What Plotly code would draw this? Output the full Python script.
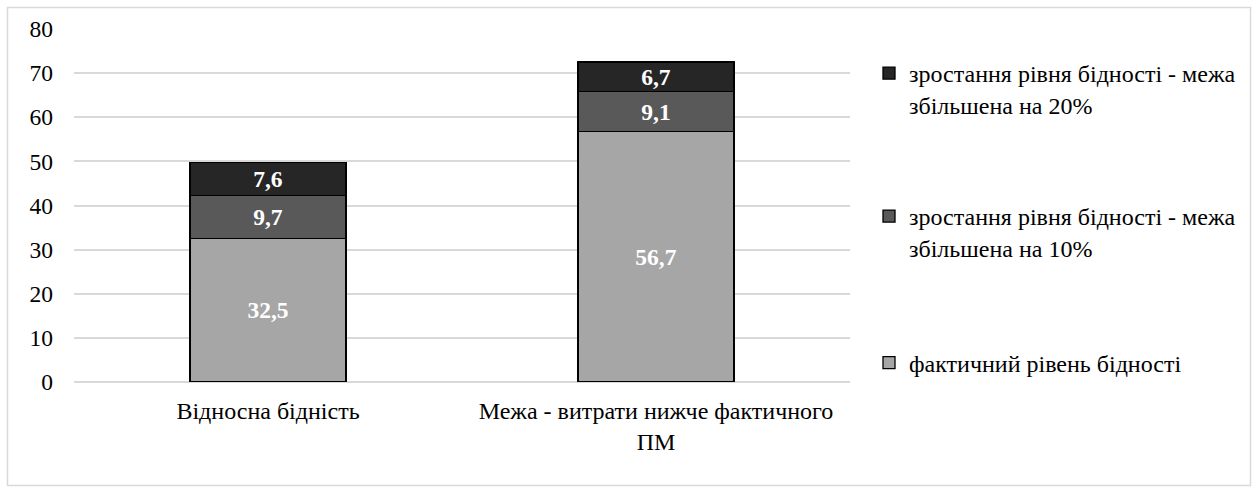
import plotly.graph_objects as go

categories = ["Відносна бідність", "Межа - витрати нижче фактичного<br>ПМ"]
actual = [32.5, 56.7]
plus10 = [9.7, 9.1]
plus20 = [7.6, 6.7]
names = ["фактичний рівень бідності",
         "зростання рівня бідності - межа<br>збільшена на 10%",
         "зростання рівня бідності - межа<br>збільшена на 20%"]
colors = ["#a6a6a6", "#595959", "#262626"]
y_ticks = [0, 10, 20, 30, 40, 50, 60, 70, 80]

FONT = "Liberation Serif, Times New Roman, serif"
FS = 24
fig = go.Figure()
series = [actual, plus10, plus20]
legends = ["legend3", "legend2", "legend"]
for vals, nm, col, lg in zip(series, names, colors, legends):
    fig.add_trace(go.Bar(
        x=categories, y=vals, name=nm, legend=lg, showlegend=True,
        marker=dict(color=col, line=dict(color="#000000", width=1.3)),
        texttemplate="%{y:.1f}", textposition="inside", insidetextanchor="middle",
        textangle=0, constraintext="none",
        textfont=dict(family=FONT, size=23.5, color="white", weight="bold"),
        width=0.402,
    ))

L, R, T, B = 74, 850, 29, 382
W, H = 1255, 492
pw, ph = R - L, B - T
def px(x):
    return (x - L) / pw
def py(y):
    return (B - y) / ph

legend_common = dict(font=dict(family=FONT, size=FS, color="#000000"), bgcolor="rgba(0,0,0,0)",
                     xanchor="left", yanchor="middle", itemwidth=30, traceorder="normal",
                     valign="top")
fig.update_layout(
    width=W, height=H,
    margin=dict(l=L, r=W - R, t=T, b=H - B, autoexpand=False),
    showlegend=True,
    barmode="stack", bargap=0.598,
    separators=", ",
    plot_bgcolor="white", paper_bgcolor="white",
    font=dict(family=FONT, size=FS, color="#000000"),
    xaxis=dict(showgrid=False, showline=False, ticks="", tickfont=dict(family=FONT, size=FS),
               ticklabelstandoff=12),
    yaxis=dict(range=[0, 80], tickvals=y_ticks, showgrid=True, gridcolor="#d9d9d9", gridwidth=1.5,
               zeroline=True, zerolinecolor="#d9d9d9", zerolinewidth=1.5, showline=False,
               ticks="", tickfont=dict(family=FONT, size=23.5), ticklabelstandoff=20),
    legend=dict(x=px(869), y=py(89), **legend_common),
    legend2=dict(x=px(869), y=py(232), **legend_common),
    legend3=dict(x=px(869), y=py(363), **legend_common),
    shapes=[dict(type="rect", xref="paper", yref="paper",
                 x0=px(7.5), x1=px(1250.5), y0=py(485.5), y1=py(7.5),
                 line=dict(color="#d9d9d9", width=1.5), layer="below")],
)
fig.write_html("out.html", config={"displayModeBar": False},
               post_script="document.body.style.margin='0';")
